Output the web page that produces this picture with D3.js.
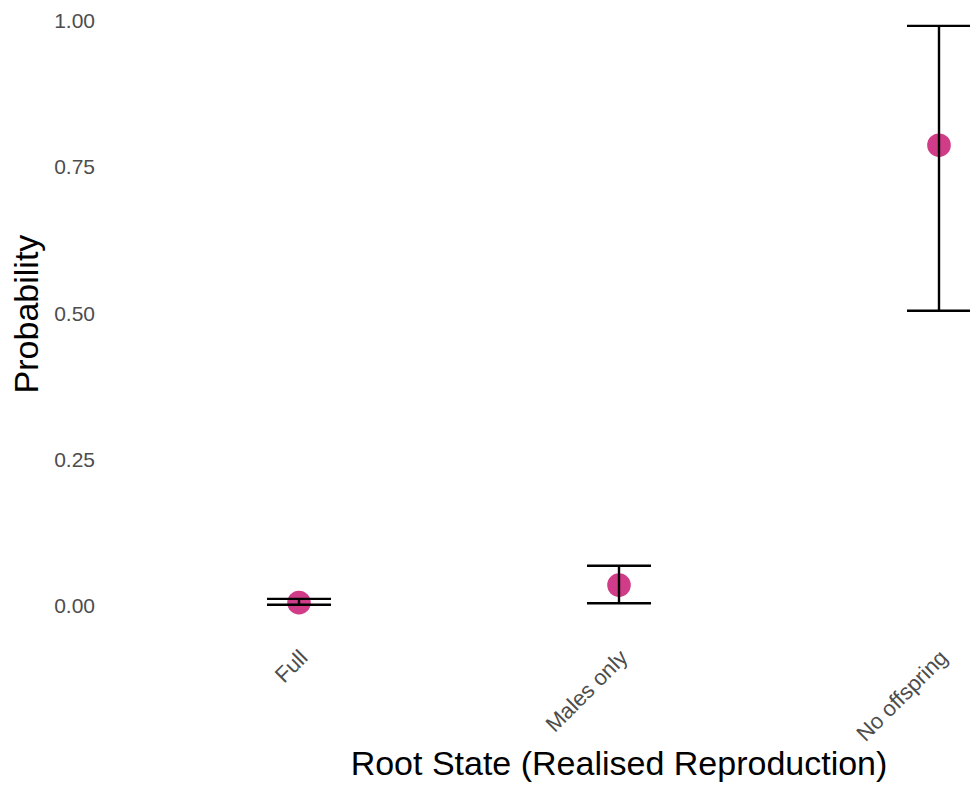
<!DOCTYPE html>
<html>
<head>
<meta charset="utf-8">
<script src="https://cdn.jsdelivr.net/npm/d3@7"></script>
<style>
  body { margin: 0; background: #fff; }
  svg { display: block; font-family: "Liberation Sans", Arial, sans-serif; }
</style>
</head>
<body>
<div id="chart"></div>
<script>
(function() {
  // Root state estimates with their intervals
  var categories = ['Full', 'Males only', 'No offspring'];
  var estimates  = [0.004, 0.034, 0.786];
  var lowers     = [0.0005, 0.003, 0.503];
  var uppers     = [0.0105, 0.067, 0.990];
  var yTicks     = [0, 0.25, 0.5, 0.75, 1];

  const WIDTH = 970;
  const HEIGHT = 787;
  const CAP_HALF = 32;

  var data = categories.map(function(c, i) {
    return { cat: c, est: estimates[i], lo: lowers[i], hi: uppers[i] };
  });

  var svg = d3.select('#chart').append('svg')
    .attr('width', WIDTH)
    .attr('height', HEIGHT);

  var x = d3.scalePoint()
    .domain(categories)
    .range([299, 939]);

  var y = d3.scaleLinear()
    .domain([0, 1])
    .range([605, 20]);

  // y axis labels (no line, no ticks)
  var yAxis = svg.append('g')
    .attr('transform', 'translate(95,0)')
    .call(d3.axisLeft(y).tickValues(yTicks).tickFormat(d3.format('.2f')).tickSize(0).tickPadding(0));
  yAxis.select('.domain').remove();
  yAxis.selectAll('text')
    .attr('fill', '#4d4d4d')
    .style('font-size', '21px')
    .attr('dy', '0.36em');

  // x axis labels, rotated
  var xAxis = svg.append('g')
    .call(d3.axisBottom(x).tickSize(0));
  xAxis.select('.domain').remove();
  xAxis.selectAll('.tick').attr('transform', null);
  xAxis.selectAll('.tick text')
    .attr('x', null).attr('y', null).attr('dy', null)
    .attr('text-anchor', 'end')
    .attr('fill', '#4d4d4d')
    .style('font-size', '22px')
    .attr('transform', function(d) {
      return 'translate(' + (x(d) + 10) + ',659) rotate(-45)';
    });

  // points
  svg.append('g').selectAll('circle')
    .data(data)
    .enter().append('circle')
    .attr('cx', function(d) { return x(d.cat); })
    .attr('cy', function(d) { return y(d.est); })
    .attr('r', 11.8)
    .attr('fill', '#cf3282')
    .attr('fill-opacity', 0.95);

  // error bars on top
  var bars = svg.append('g')
    .attr('stroke', '#000')
    .attr('stroke-width', 2.4)
    .attr('fill', 'none');

  var eb = bars.selectAll('g')
    .data(data)
    .enter().append('g');

  eb.append('line')
    .attr('x1', function(d) { return x(d.cat); })
    .attr('x2', function(d) { return x(d.cat); })
    .attr('y1', function(d) { return y(d.lo); })
    .attr('y2', function(d) { return y(d.hi); });

  eb.append('line')
    .attr('x1', function(d) { return x(d.cat) - CAP_HALF; })
    .attr('x2', function(d) { return x(d.cat) + CAP_HALF; })
    .attr('y1', function(d) { return y(d.hi); })
    .attr('y2', function(d) { return y(d.hi); });

  eb.append('line')
    .attr('x1', function(d) { return x(d.cat) - CAP_HALF; })
    .attr('x2', function(d) { return x(d.cat) + CAP_HALF; })
    .attr('y1', function(d) { return y(d.lo); })
    .attr('y2', function(d) { return y(d.lo); });

  // axis titles
  svg.append('text')
    .attr('x', 619)
    .attr('y', 775)
    .attr('text-anchor', 'middle')
    .attr('fill', '#000')
    .style('font-size', '34px')
    .text('Root State (Realised Reproduction)');

  svg.append('text')
    .attr('transform', 'translate(38,314) rotate(-90)')
    .attr('text-anchor', 'middle')
    .attr('fill', '#000')
    .style('font-size', '34px')
    .text('Probability');
})();
</script>
</body>
</html>
